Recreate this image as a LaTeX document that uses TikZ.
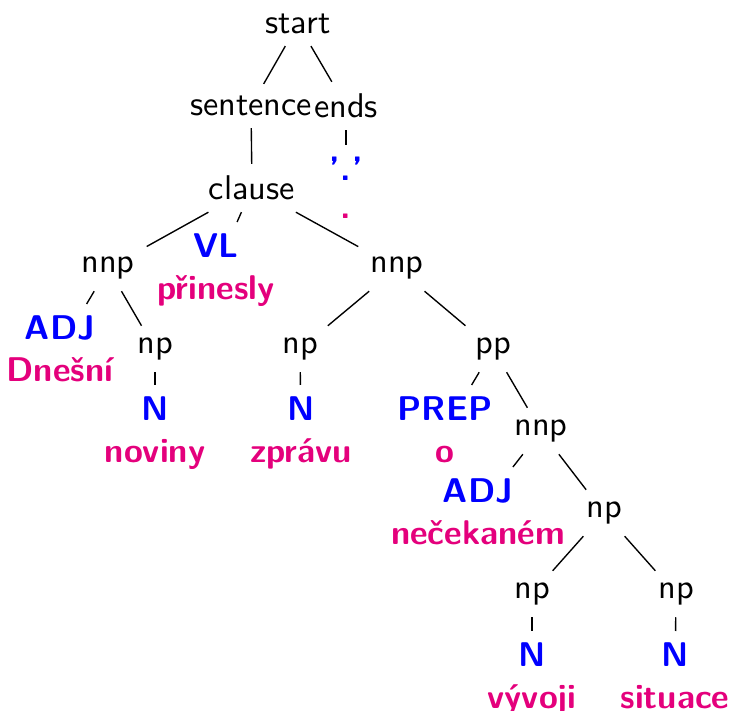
\documentclass[tikz,border=0pt]{standalone}
\usepackage{xcolor}
\definecolor{catblue}{RGB}{0,0,255}
\definecolor{wordpink}{RGB}{228,0,124}
\newcommand\tcat[1]{\textcolor{catblue}{#1}}
\newcommand\tword[1]{\textcolor{wordpink}{#1}}
\begin{document}
\begin{tikzpicture}[x=0.2915pt,y=-0.2915pt,
  font=\sffamily,
  inode/.style={font=\sffamily},
  leaf/.style={align=center,font=\sffamily\bfseries,anchor=north},
  conn/.style={draw=black,line width=0.4pt}]
\useasboundingbox (0,0) rectangle (730,711);
% internal nodes
\node[inode] (start)    at (298,24)  {start};
\node[inode] (sentence) at (251,106) {sentence};
\node[inode] (ends)     at (346,106) {ends};
\node[inode] (clause)   at (252,188) {clause};
\node[inode] (nnpA)     at (108,268) {nnp};
\node[inode] (nnpB)     at (397,268) {nnp};
\node[inode] (npA)      at (155,349) {np};
\node[inode] (npB)      at (300,349) {np};
\node[inode] (pp)       at (493,349) {pp};
\node[inode] (nnpC)     at (541,431) {nnp};
\node[inode] (npC)      at (604,513) {np};
\node[inode] (npD)      at (532,594) {np};
\node[inode] (npE)      at (676,594) {np};
% leaves
\node[align=center,font=\sffamily\bfseries] (endl) at (346,188) {\tcat{, ,}\\[-6.5pt]\tcat{.}\\[-1pt]\tword{.}};
\node[leaf] (vl)   at (216,222) {\tcat{VL}\\\tword{přinesly}};
\node[leaf] (adjA) at (60,304)  {\tcat{ADJ}\\\tword{Dnešní}};
\node[leaf] (nA)   at (155,385) {\tcat{N}\\\tword{noviny}};
\node[leaf] (nB)   at (301,385) {\tcat{N}\\\tword{zprávu}};
\node[leaf] (prep) at (445,385) {\tcat{PREP}\\\tword{o}};
\node[leaf] (adjB) at (478,467) {\tcat{ADJ}\\\tword{nečekaném}};
\node[leaf] (nC)   at (532,631) {\tcat{N}\\\tword{vývoji}};
\node[leaf] (nD)   at (675,631) {\tcat{N}\\\tword{situace}};
% connectors
\draw[conn] (start) -- (sentence);
\draw[conn] (start) -- (ends);
\draw[conn] (sentence) -- (clause);
\draw[conn] (ends) -- (endl);
\draw[conn] (clause) -- (nnpA);
\draw[conn] (clause) -- (vl);
\draw[conn] (clause) -- (nnpB);
\draw[conn] (nnpA) -- (adjA);
\draw[conn] (nnpA) -- (npA);
\draw[conn] (npA) -- (nA);
\draw[conn] (nnpB) -- (npB);
\draw[conn] (nnpB) -- (pp);
\draw[conn] (npB) -- (nB);
\draw[conn] (pp) -- (prep);
\draw[conn] (pp) -- (nnpC);
\draw[conn] (nnpC) -- (adjB);
\draw[conn] (nnpC) -- (npC);
\draw[conn] (npC) -- (npD);
\draw[conn] (npC) -- (npE);
\draw[conn] (npD) -- (nC);
\draw[conn] (npE) -- (nD);
\end{tikzpicture}
\end{document}
